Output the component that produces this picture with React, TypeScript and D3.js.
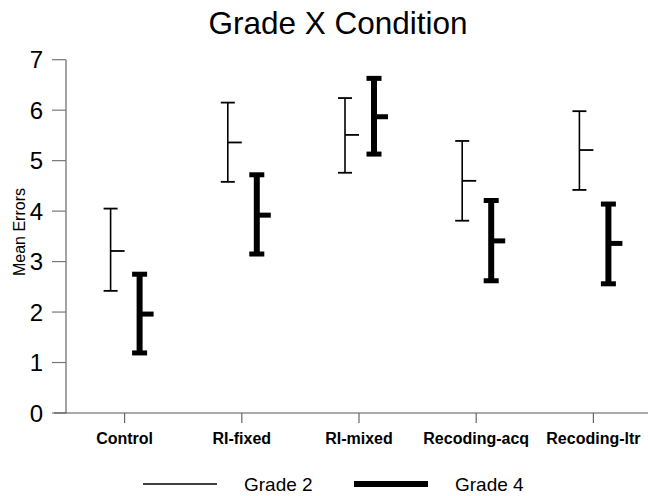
import React from "react";
import * as d3 from "d3";

const categories = ["Control", "RI-fixed", "RI-mixed", "Recoding-acq", "Recoding-ltr"];
const grade2Mean = [3.21, 5.36, 5.51, 4.6, 5.21];
const grade2Upper = [4.05, 6.15, 6.24, 5.39, 5.98];
const grade2Lower = [2.42, 4.58, 4.76, 3.81, 4.42];
const grade4Mean = [1.96, 3.92, 5.87, 3.41, 3.36];
const grade4Upper = [2.75, 4.72, 6.63, 4.21, 4.14];
const grade4Lower = [1.19, 3.15, 5.13, 2.62, 2.56];
const yTicks = [0, 1, 2, 3, 4, 5, 6, 7];

const W = 648, H = 496;
const left = 66, right = 652, top = 59.7, bottom = 413;
const font = "'Liberation Sans', Arial, Helvetica, sans-serif";

export default function App() {
  const x = d3.scaleBand<string>().domain(categories).range([left, right]);
  const y = d3.scaleLinear().domain([0, 7]).range([bottom, top]);
  const cx = (c: string) => (x(c) as number) + x.bandwidth() / 2;

  const series = [
    { mean: grade2Mean, up: grade2Upper, lo: grade2Lower, off: -14, sw: 1.6, capW: 7, tick: 14, capSw: 1.8 },
    { mean: grade4Mean, up: grade4Upper, lo: grade4Lower, off: 15, sw: 6, capW: 7.5, tick: 14, capSw: 5 },
  ];

  return (
    <svg width={W} height={H} style={{ position: "absolute", left: 0, top: 0, background: "#fff" }}>
      <text x={338} y={34} textAnchor="middle" fontFamily={font} fontSize={31.5} fill="#000">
        Grade X Condition
      </text>
      {/* y axis */}
      <line x1={left} x2={left} y1={top} y2={bottom} stroke="#666" strokeWidth={1.2} />
      {yTicks.map((t) => (
        <g key={t}>
          <line x1={52} x2={left} y1={y(t)} y2={y(t)} stroke="#777" strokeWidth={1.2} />
          <text x={43} y={y(t)} dy="0.36em" textAnchor="end" fontFamily={font} fontSize={24} fill="#000">
            {t}
          </text>
        </g>
      ))}
      <text
        transform={`translate(25,232) rotate(-90)`}
        textAnchor="middle"
        fontFamily={font}
        fontSize={16}
        fill="#000"
      >
        Mean Errors
      </text>
      {/* x axis */}
      <line x1={left - 12} x2={W} y1={bottom} y2={bottom} stroke="#555" strokeWidth={1.2} />
      {categories.map((c) => (
        <g key={c}>
          <line x1={cx(c)} x2={cx(c)} y1={bottom} y2={bottom + 10} stroke="#666" strokeWidth={1.2} />
          <text x={cx(c)} y={444} textAnchor="middle" fontFamily={font} fontSize={16} fontWeight="bold" fill="#000">
            {c}
          </text>
        </g>
      ))}
      {/* error bars */}
      {series.map((s, si) =>
        categories.map((c, i) => {
          const px = cx(c) + s.off;
          return (
            <g key={`${si}-${c}`} stroke="#000">
              <line x1={px} x2={px} y1={y(s.up[i])} y2={y(s.lo[i])} strokeWidth={s.sw} />
              <line x1={px - s.capW} x2={px + s.capW} y1={y(s.up[i])} y2={y(s.up[i])} strokeWidth={s.capSw} />
              <line x1={px - s.capW} x2={px + s.capW} y1={y(s.lo[i])} y2={y(s.lo[i])} strokeWidth={s.capSw} />
              <line x1={px} x2={px + s.tick} y1={y(s.mean[i])} y2={y(s.mean[i])} strokeWidth={s.capSw} />
            </g>
          );
        })
      )}
      {/* legend */}
      <line x1={143} x2={217} y1={484} y2={484} stroke="#000" strokeWidth={1.6} />
      <text x={244} y={484} dy="0.36em" fontFamily={font} fontSize={19} fill="#000">Grade 2</text>
      <line x1={354} x2={428} y1={484} y2={484} stroke="#000" strokeWidth={6} />
      <text x={455} y={484} dy="0.36em" fontFamily={font} fontSize={19} fill="#000">Grade 4</text>
    </svg>
  );
}
